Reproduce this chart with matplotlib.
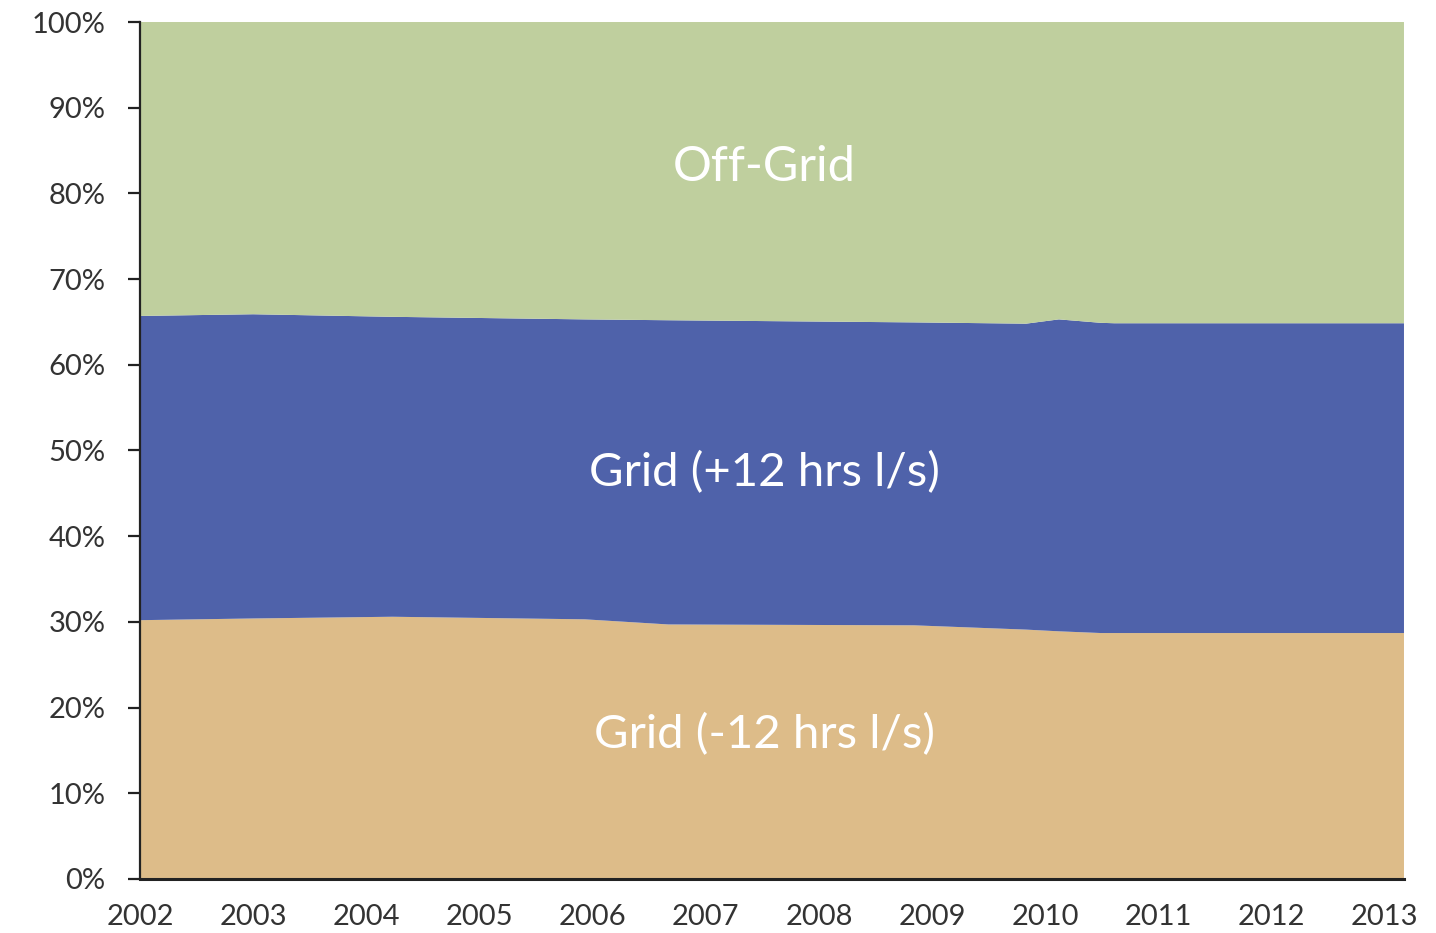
import matplotlib
matplotlib.use("Agg")
import matplotlib.pyplot as plt
import numpy as np

plt.rcParams['font.family'] = ['Lato', 'DejaVu Sans']

# sample positions (fractional years)
x_pos = [2002.0, 2003.0, 2004.23, 2005.93, 2006.67, 2008.84, 2009.83, 2010.12, 2010.49, 2010.61, 2013.17]
# cumulative boundaries (%)
grid_minus_top = [30.2, 30.4, 30.6, 30.3, 29.7, 29.6, 29.1, 28.9, 28.7, 28.7, 28.7]
grid_plus_top = [65.7, 65.9, 65.6, 65.3, 65.2, 64.95, 64.8, 65.3, 64.9, 64.85, 64.85]

grid_minus = list(grid_minus_top)
grid_plus = [b - a for a, b in zip(grid_minus_top, grid_plus_top)]
off_grid = [100 - b for b in grid_plus_top]

series_names = ["Grid (-12 hrs l/s)", "Grid (+12 hrs l/s)", "Off-Grid"]
colors = ["#DDBC89", "#4F62AA", "#BFCF9E"]
year_labels = [str(y) for y in range(2002, 2014)]
y_ticks = list(range(0, 101, 10))

fig = plt.figure(figsize=(14.36, 9.33), dpi=100)
ax = fig.add_axes([0.0975, 0.0579, 0.8802, 0.9185])
ax.stackplot(x_pos, grid_minus, grid_plus, off_grid, colors=colors, linewidth=0)

ax.set_xlim(2002.03, 2013.17)
ax.set_ylim(0, 100)

ax.set_xticks(range(2002, 2014))
ax.set_xticklabels(year_labels)
ax.set_yticks(y_ticks)
ax.set_yticklabels([f"{v}%" for v in y_ticks])

ax.tick_params(axis='x', length=0, pad=18, labelsize=21, labelcolor='#333333')
ax.tick_params(axis='y', length=9, width=1.6, pad=16, labelsize=21, labelcolor='#333333', color='#222222')

for s in ['top', 'right']:
    ax.spines[s].set_visible(False)
ax.spines['left'].set_linewidth(1.6)
ax.spines['left'].set_color('#222222')
ax.spines['left'].set_zorder(5)
ax.spines['bottom'].set_linewidth(2.2)
ax.spines['bottom'].set_color('#222222')

label_x = 2007.52
ax.text(label_x, 83.1, "Off-Grid", color='white', fontsize=35, ha='center', va='center')
ax.text(label_x, 47.4, "Grid (+12 hrs l/s)", color='white', fontsize=34, ha='center', va='center')
ax.text(label_x, 16.8, "Grid (-12 hrs l/s)", color='white', fontsize=34, ha='center', va='center')

fig.savefig("out.png", dpi=100)
